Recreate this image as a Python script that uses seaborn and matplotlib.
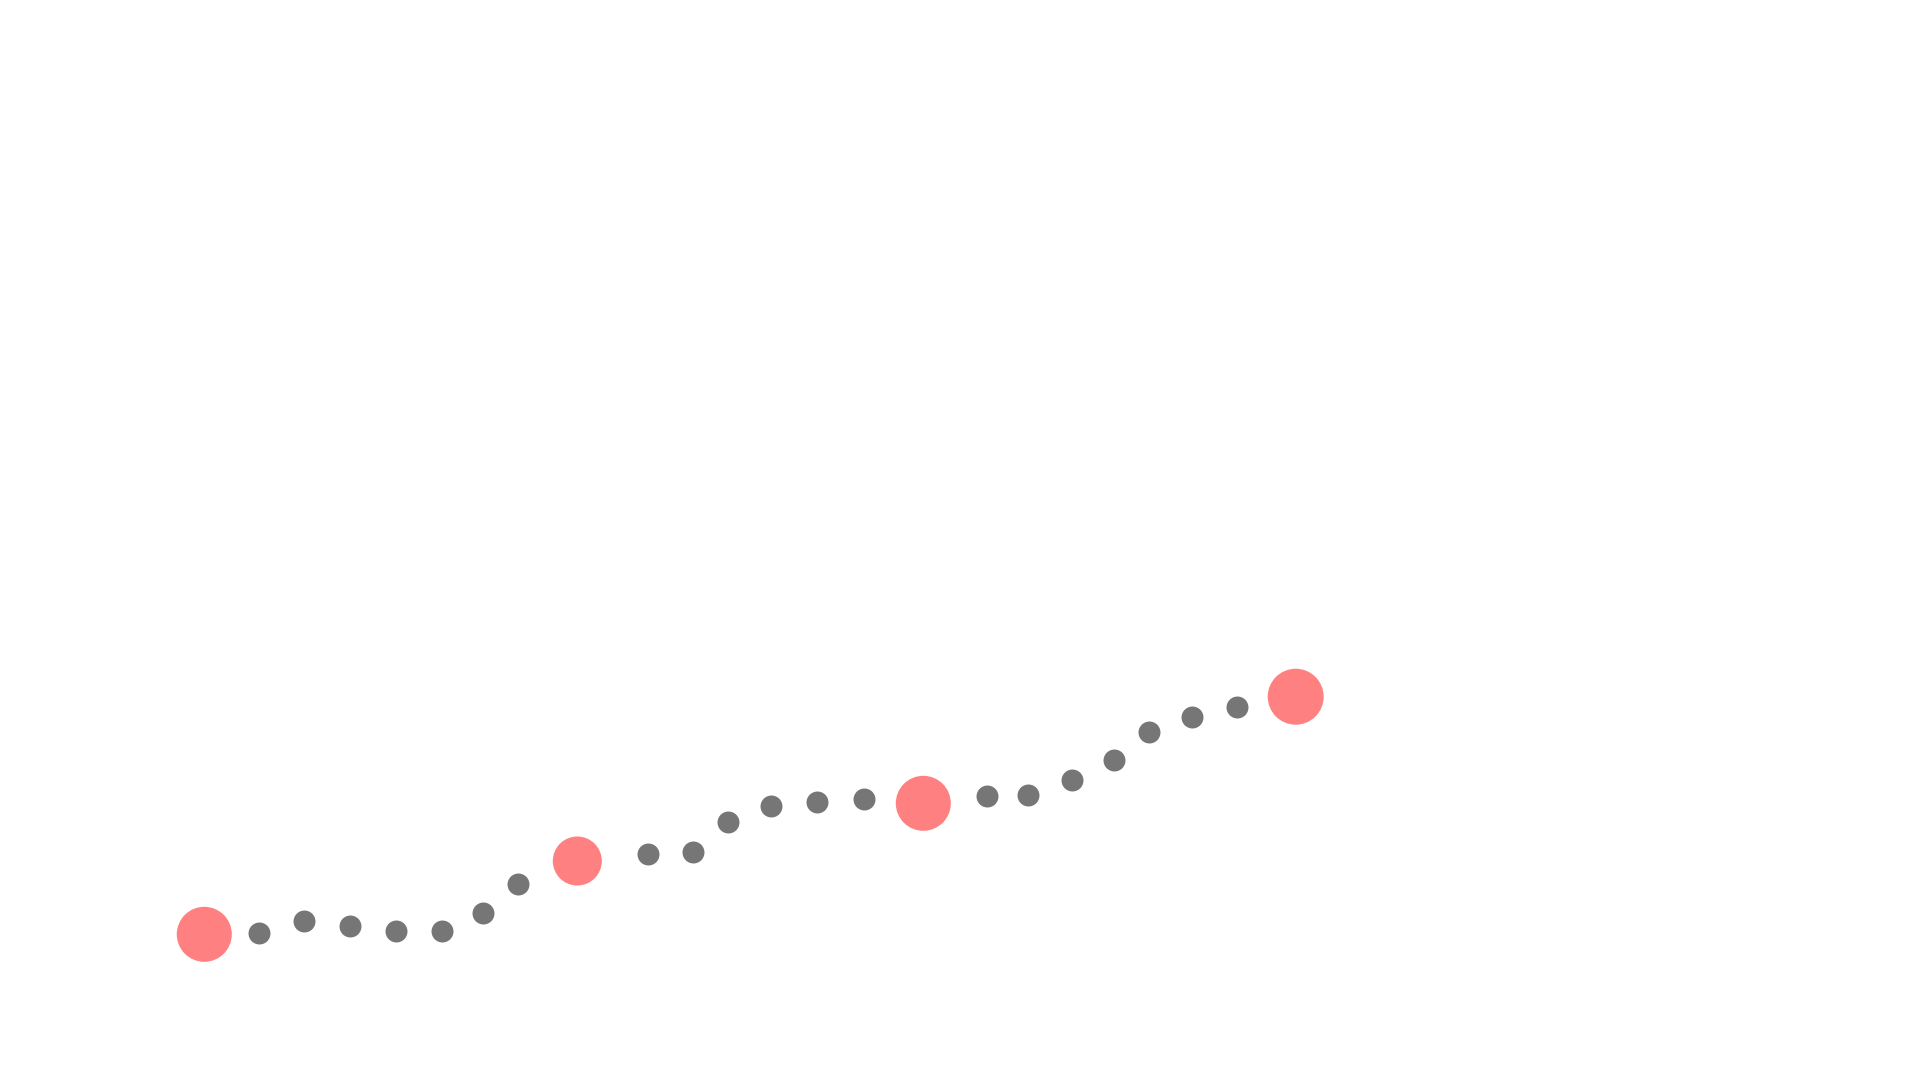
import matplotlib
matplotlib.use("Agg")
import matplotlib.pyplot as plt
import seaborn as sns

# puntos principales (rojo)
key_x = [204.3, 577.3, 923.3, 1295.7]
key_y = [145.7, 219.0, 276.7, 383.3]
key_diam = [55, 49, 55, 56]

# puntos intermedios (gris)
dot_x = [259.3, 303.7, 349.7, 395.7, 442.0, 483.3, 517.7,
         648.3, 693.3, 727.7, 771.0, 817.3, 863.5,
         987.0, 1028.3, 1072.0, 1113.7, 1149.3, 1192.3, 1237.0]
dot_y = [146.7, 159.3, 154.0, 149.0, 148.7, 166.7, 196.3,
         225.7, 228.3, 258.0, 274.3, 278.0, 281.0,
         284.3, 284.7, 299.7, 319.7, 348.3, 363.0, 372.7]

sns.set_style("white")

fig = plt.figure(figsize=(19.2, 10.8), dpi=100)
ax = fig.add_axes([0, 0, 1, 1])

sns.scatterplot(x=dot_x, y=dot_y, color="#767676", s=250, linewidth=0, ax=ax, zorder=2)
sns.scatterplot(
    x=key_x, y=key_y, size=key_diam, sizes=(1246, 1624), size_norm=(49, 56),
    color="#FF8080", linewidth=0, legend=False, ax=ax, zorder=3
)

ax.set_xlim(0, 1920)
ax.set_ylim(0, 1080)
ax.axis("off")

fig.savefig("out.png", dpi=100, facecolor="white")
